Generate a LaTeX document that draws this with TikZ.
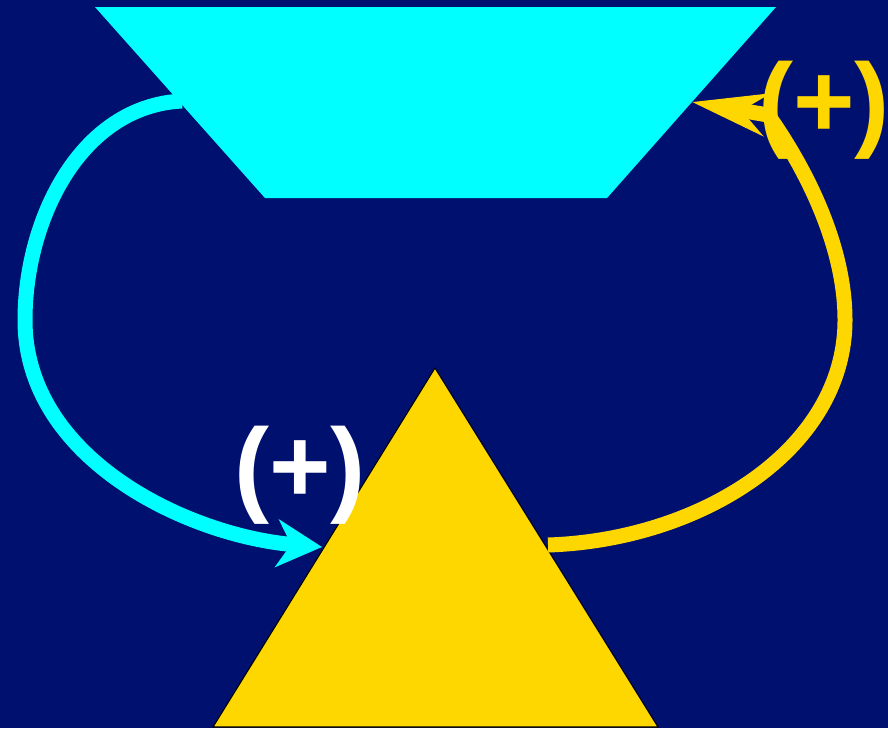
\documentclass[tikz,border=0pt]{standalone}
\usepackage{fontspec}
\setmainfont{Liberation Sans}
\usetikzlibrary{arrows.meta}
\definecolor{navy}{HTML}{00106F}
\definecolor{aqua}{HTML}{00FFFF}
\definecolor{gold}{HTML}{FFD700}

\begin{document}
\begin{tikzpicture}[x=0.02cm, y=-0.02cm,
  loopline/.style={line width=0.3cm},
  sign/.style={font=\fontsize{60}{64}\selectfont\bfseries, anchor=base, inner sep=0pt},
]
\fill[navy] (0,0) rectangle (888,728);
\useasboundingbox (0,0) rectangle (888,728);

% shapes
\fill[aqua] (95,7) -- (776,7) -- (607,198) -- (265,198) -- cycle;
\filldraw[fill=gold, draw=black, line width=0.6pt] (435,368) -- (658,727) -- (213,727) -- cycle;

\coordinate (capL) at (182,101);
\coordinate (capR) at (692,102);
\coordinate (triL) at (322,547);
\coordinate (triR) at (548,545);

% feedback loops
\draw[loopline, aqua, -{Stealth[length=0.9cm, width=0.95cm, inset=0.28cm]}]
  (capL) .. controls (80,106) and (25,220) .. (25,320)
  .. controls (25,460) and (190,536) .. (triL);
\draw[loopline, gold, -{Stealth[length=1.5cm, width=0.85cm, inset=0.5cm]}]
  (triR) .. controls (700,540) and (845,450) .. (845,320)
  .. controls (845,240) and (800,160) .. (768,115) -- (capR);

\node[sign, text=white] (plusL) at (300,502) {(+)};
\node[sign, text=gold] (plusR) at (824,137) {(+)};

\end{tikzpicture}
\end{document}
